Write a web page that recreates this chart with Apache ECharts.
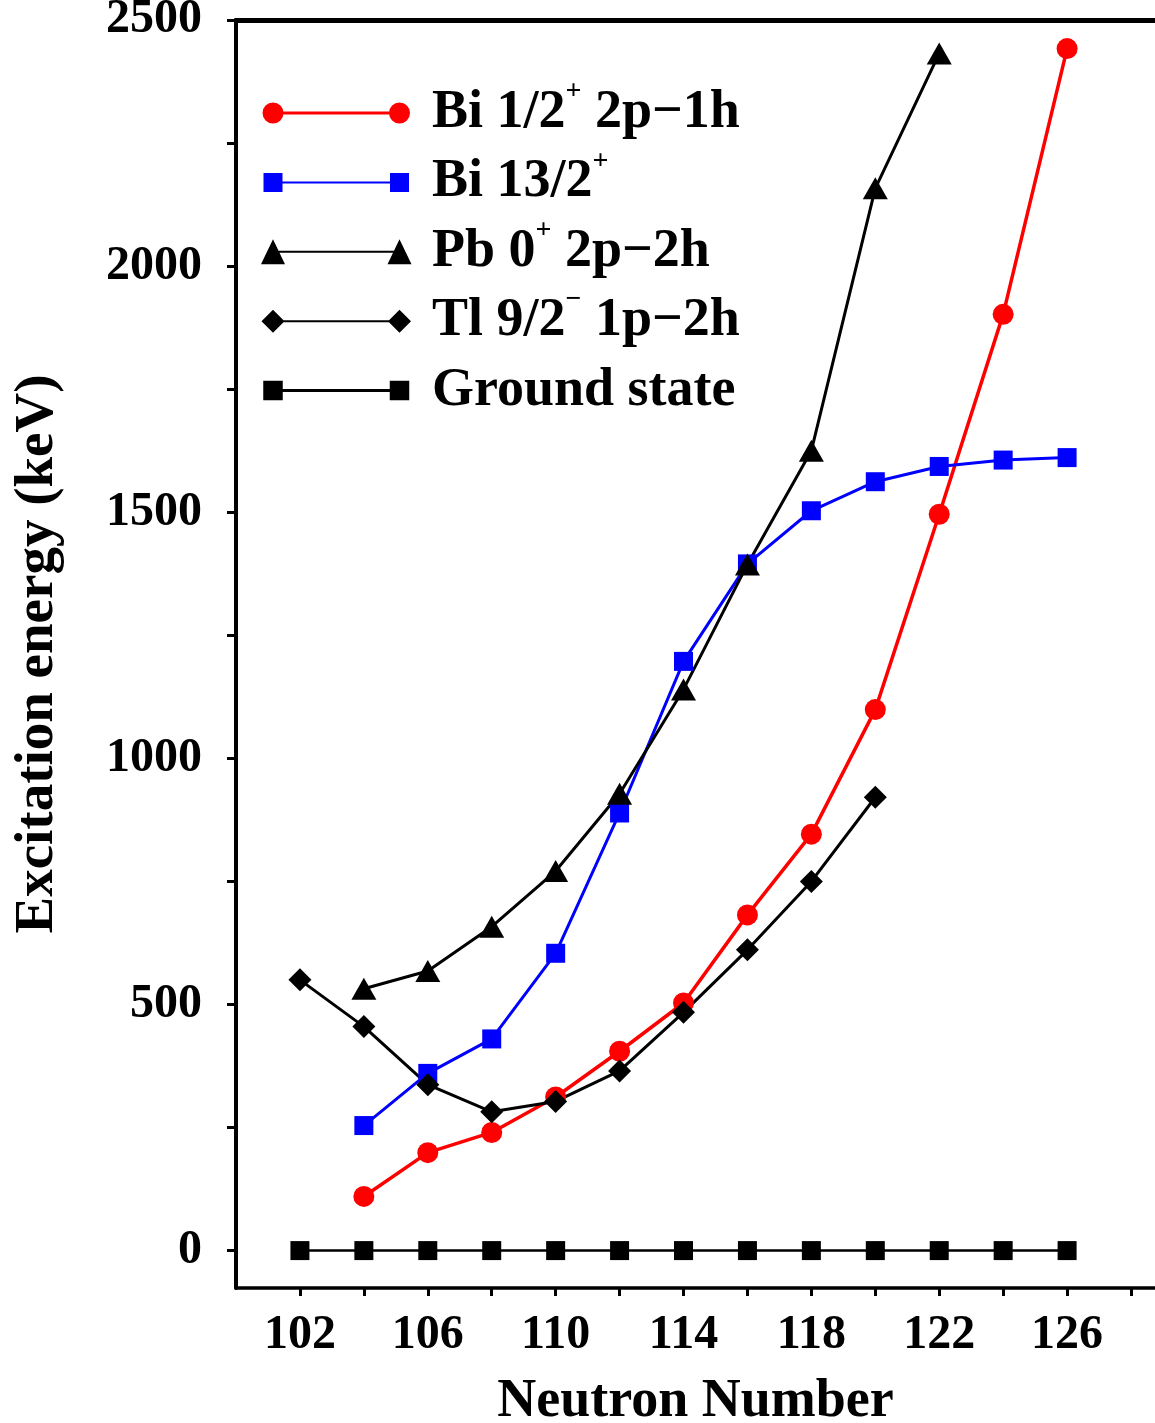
<!DOCTYPE html>
<html>
<head>
<meta charset="utf-8">
<script src="https://cdn.jsdelivr.net/npm/echarts@6/dist/echarts.min.js"></script>
<style>
  html, body { margin: 0; padding: 0; background: #fff; overflow: hidden; }
  #chart { width: 1155px; height: 1423px; }
</style>
</head>
<body>
<div id="chart"></div>
<script>
// ---------- data ----------
const neutronBi = [104, 106, 108, 110, 112, 114, 116, 118, 120, 122, 124, 126];
const biHalfPlus = [110, 199, 240, 312, 405, 503, 682, 846, 1099, 1496, 1902, 2442];
const biThirteenHalfPlus = [254, 360, 430, 604, 889, 1197, 1395, 1503, 1562, 1593, 1606, 1611];
const neutronPb = [104, 106, 108, 110, 112, 114, 116, 118, 120, 122];
const pbZeroPlus = [532, 568, 658, 771, 928, 1140, 1394, 1625, 2158, 2432];
const neutronTl = [102, 104, 106, 108, 110, 112, 114, 116, 118, 120];
const tlNineHalfMinus = [550, 455, 337, 282, 303, 365, 484, 611, 750, 921];
const neutronGs = [102, 104, 106, 108, 110, 112, 114, 116, 118, 120, 122, 124, 126];
const groundState = [0, 0, 0, 0, 0, 0, 0, 0, 0, 0, 0, 0, 0];

const seriesNames = ['Bi 1/2+ 2p-1h', 'Bi 13/2+', 'Pb 0+ 2p-2h', 'Tl 9/2- 1p-2h', 'Ground state'];
const legendRich = [
  '{t|Bi 1/2}{s|+}{t| 2p\u22121h}',
  '{t|Bi 13/2}{s|+}',
  '{t|Pb 0}{s|+}{t| 2p\u22122h}',
  '{t|Tl 9/2}{s|\u2212}{t| 1p\u22122h}',
  '{t|Ground state}{s| }'
];

const xTickValues = [102, 104, 106, 108, 110, 112, 114, 116, 118, 120, 122, 124, 126, 128];
const xLabelValues = [102, 106, 110, 114, 118, 122, 126];
const yTickValues = [0, 250, 500, 750, 1000, 1250, 1500, 1750, 2000, 2250, 2500];
const yLabelValues = [0, 500, 1000, 1500, 2000, 2500];

// ---------- helpers ----------
function pairs(xs, ys) { return xs.map((x, i) => [x, ys[i]]); }

const FONT = "'Liberation Serif', 'Times New Roman', serif";

// legend icons (box 166 x 26, symbol centres at x=12 and x=138.5)
const box = 'M0,0 M166,26 ';
function lineRect(h) {
  const a = 13 - h / 2, b = 13 + h / 2;
  return 'M12,' + a + ' L138.5,' + a + ' L138.5,' + b + ' L12,' + b + ' Z ';
}
function circle(cx, r) {
  return 'M' + (cx - r) + ',13 A' + r + ',' + r + ' 0 1,1 ' + (cx + r) + ',13 A' + r + ',' + r + ' 0 1,1 ' + (cx - r) + ',13 Z ';
}
function square(cx, s) {
  const h = s / 2;
  return 'M' + (cx - h) + ',' + (13 - h) + ' L' + (cx + h) + ',' + (13 - h) + ' L' + (cx + h) + ',' + (13 + h) + ' L' + (cx - h) + ',' + (13 + h) + ' Z ';
}
function triangle(cx, w, hgt) {
  return 'M' + cx + ',' + (13 - hgt / 2) + ' L' + (cx + w / 2) + ',' + (13 + hgt / 2) + ' L' + (cx - w / 2) + ',' + (13 + hgt / 2) + ' Z ';
}
function diamond(cx, s) {
  const h = s / 2;
  return 'M' + cx + ',' + (13 - h) + ' L' + (cx + h) + ',13 L' + cx + ',' + (13 + h) + ' L' + (cx - h) + ',13 Z ';
}
const icons = [
  'path://' + box + circle(12, 10.5) + lineRect(3) + circle(138.5, 10.5),
  'path://' + box + square(12, 19) + lineRect(2) + square(138.5, 19),
  'path://' + box + triangle(12, 24, 25) + lineRect(2) + triangle(138.5, 24, 25),
  'path://' + box + diamond(12, 23) + lineRect(2) + diamond(138.5, 23),
  'path://' + box + square(12, 19.5) + lineRect(3) + square(138.5, 19.5)
];

const chart = echarts.init(document.getElementById('chart'), null, { renderer: 'canvas', width: 1155, height: 1423 });

const option = {
  animation: false,
  backgroundColor: '#ffffff',
  grid: { left: 236, top: 20, width: 919, height: 1268, containLabel: false, outerBoundsMode: 'none' },
  legend: {
    orient: 'vertical',
    left: 261,
    top: 78,
    padding: 0,
    itemWidth: 166,
    itemHeight: 26,
    itemGap: -0.6,
    selectedMode: false,
    itemStyle: { borderWidth: 0 },
    data: seriesNames.map((n, i) => ({ name: n, icon: icons[i] })),
    formatter: function (name) { return legendRich[seriesNames.indexOf(name)]; },
    textStyle: {
      color: '#000',
      fontFamily: FONT,
      fontWeight: 'bold',
      fontSize: 54,
      lineHeight: 26,
      rich: {
        t: { fontFamily: FONT, fontWeight: 'bold', fontSize: 54, lineHeight: 26, color: '#000' },
        s: { fontFamily: FONT, fontWeight: 'bold', fontSize: 28, lineHeight: 26, color: '#000', padding: [0, 0, 42, 0], verticalAlign: 'middle' }
      }
    }
  },
  xAxis: [
    {
      type: 'value',
      min: 100,
      max: 128.75,
      position: 'bottom',
      name: 'Neutron Number',
      nameLocation: 'middle',
      nameGap: 87,
      nameTextStyle: { fontFamily: FONT, fontWeight: 'bold', fontSize: 54, color: '#000' },
      axisLine: { show: true, onZero: false, lineStyle: { color: '#000', width: 3.5 } },
      axisTick: { show: true, inside: false, length: 8, customValues: xTickValues, lineStyle: { color: '#000', width: 3 } },
      axisLabel: { show: true, customValues: xLabelValues, margin: 24, fontFamily: FONT, fontWeight: 'bold', fontSize: 48, color: '#000', formatter: v => String(v) },
      splitLine: { show: false },
      minorTick: { show: false }
    },
    {
      type: 'value',
      min: 100,
      max: 128.75,
      position: 'top',
      axisLine: { show: true, onZero: false, lineStyle: { color: '#000', width: 5 } },
      axisTick: { show: false },
      axisLabel: { show: false },
      splitLine: { show: false }
    }
  ],
  yAxis: {
    type: 'value',
    min: -76,
    max: 2500,
    name: 'Excitation energy (keV)',
    nameLocation: 'middle',
    nameGap: 171,
    nameTextStyle: { fontFamily: FONT, fontWeight: 'bold', fontSize: 55, color: '#000' },
    axisLine: { show: true, onZero: false, lineStyle: { color: '#000', width: 4 } },
    axisTick: { show: true, inside: false, length: 9, customValues: yTickValues, lineStyle: { color: '#000', width: 3 } },
    axisLabel: { show: true, customValues: yLabelValues, margin: 34, fontFamily: FONT, fontWeight: 'bold', fontSize: 48, color: '#000', formatter: v => String(v) },
    splitLine: { show: false }
  },
  series: [
    {
      name: seriesNames[0], type: 'line', xAxisIndex: 0,
      data: pairs(neutronBi, biHalfPlus),
      symbol: 'circle', symbolSize: 21,
      itemStyle: { color: '#ff0000' },
      lineStyle: { color: '#ff0000', width: 3.5 }
    },
    {
      name: seriesNames[1], type: 'line', xAxisIndex: 0,
      data: pairs(neutronBi, biThirteenHalfPlus),
      symbol: 'rect', symbolSize: 19,
      itemStyle: { color: '#0000ff' },
      lineStyle: { color: '#0000ff', width: 3 }
    },
    {
      name: seriesNames[2], type: 'line', xAxisIndex: 0,
      data: pairs(neutronPb, pbZeroPlus),
      symbol: 'triangle', symbolSize: [25, 22],
      itemStyle: { color: '#000000' },
      lineStyle: { color: '#000000', width: 3 }
    },
    {
      name: seriesNames[3], type: 'line', xAxisIndex: 0,
      data: pairs(neutronTl, tlNineHalfMinus),
      symbol: 'diamond', symbolSize: 23,
      itemStyle: { color: '#000000' },
      lineStyle: { color: '#000000', width: 3 }
    },
    {
      name: seriesNames[4], type: 'line', xAxisIndex: 0,
      data: pairs(neutronGs, groundState),
      symbol: 'rect', symbolSize: 19,
      itemStyle: { color: '#000000' },
      lineStyle: { color: '#000000', width: 2.5 }
    }
  ]
};

chart.setOption(option);
</script>
</body>
</html>
